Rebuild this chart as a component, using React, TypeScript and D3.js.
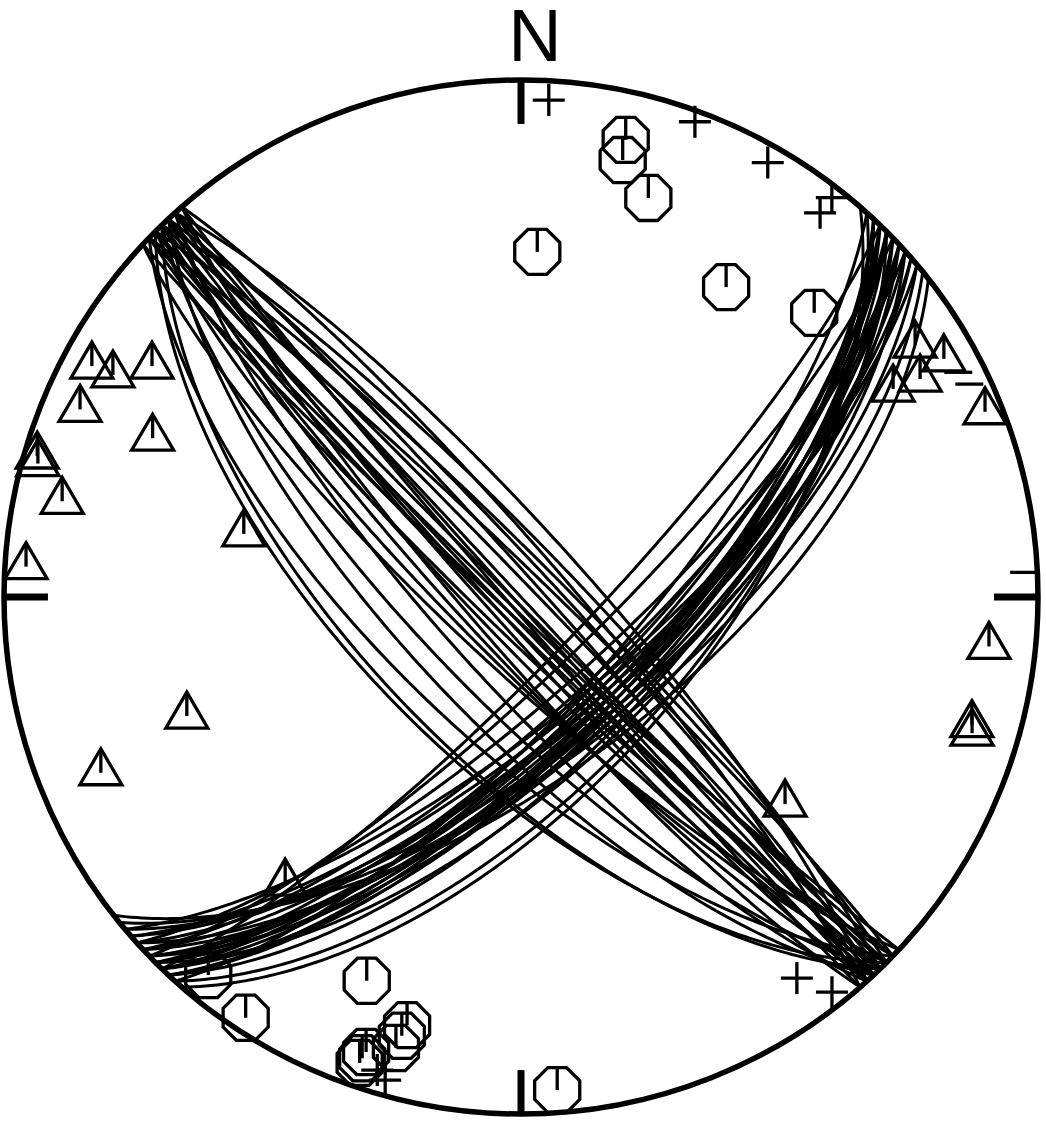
import React, { useRef, useEffect } from 'react'
import * as d3 from 'd3'

const width = 1046
const height = 1121

// nodal planes [strike, dip], right hand rule
const nwPlanes = [
  [135, 64], [136, 65], [134, 68], [137, 71], [136, 74], [138, 77], [133, 79], [135, 80],
  [137, 81], [139, 82], [136, 83], [134, 84], [138, 85], [135, 86], [137, 86], [133, 87],
  [136, 87], [139, 88], [134, 88], [138, 89], [135, 89], [137, 90], [316, 88], [318, 87],
  [314, 86], [317, 85], [315, 84], [319, 83], [316, 82], [318, 80],
]
const nePlanes = [
  [41, 61], [42, 62], [43, 65], [44, 67], [45, 68], [46, 69], [47, 67], [48, 70],
  [44, 71], [46, 66], [43, 69], [45, 72], [47, 73], [49, 69], [50, 67], [51, 65],
  [52, 63], [48, 75], [46, 78], [44, 80], [45, 64], [47, 70], [43, 68], [49, 71],
  [42, 73], [46, 68], [48, 66], [50, 72], [44, 69], [45, 70],
]

// axes [trend, plunge]
const pAxes = [
  [12.9, 10.2], [13.1, 14.3], [17.7, 20.1], [2.7, 33.6], [33.5, 28.9], [45.9, 22.1],
  [219.6, 5.7], [213.2, 3.1], [201.9, 21.1], [194.9, 15.4], [195.2, 13.1], [195.5, 10.4],
  [198.8, 7.8], [199.0, 6.3], [199.1, 5.2], [175.8, 4.9],
]
const tAxes = [
  [298.9, 5.8], [299.2, 10.5], [302.7, 16.3], [293.7, 7.6], [294.1, 23.0], [286.9, 2.5],
  [286.1, 3.1], [282.5, 10.0], [274.2, 4.5], [284.0, 44.0], [251.3, 32.3], [248.0, 13.4],
  [220.1, 29.9], [56.8, 9.8], [60.0, 6.2], [60.7, 12.5], [60.1, 18.1], [67.6, 3.3],
  [95.3, 10.0], [105.1, 10.6], [106.1, 10.1], [127.3, 36.0],
]
const bAxes = [
  [3.2, 4.2], [20.1, 2.4], [29.6, 3.8], [37.9, 2.4], [37.9, 6.5], [144.1, 9.9],
  [141.8, 3.1], [195.7, 3.3], [196.9, 4.9],
]
const dashMarks = [[62.8, 5.5], [64.6, 4.5], [87.2, 2.9]]

const compass = [0, 90, 180, 270]

const rad = Math.PI / 180

// lower hemisphere, equal area
const project = (trend: number, plunge: number) => {
  const r = Math.SQRT2 * Math.sin(((90 - plunge) / 2) * rad)
  return [r * Math.sin(trend * rad), r * Math.cos(trend * rad)]
}

const planePoints = (strike: number, dip: number) => {
  const s = strike * rad
  const d = dip * rad
  const sv = [Math.cos(s), Math.sin(s), 0]
  const dv = [Math.cos(s + Math.PI / 2) * Math.cos(d), Math.sin(s + Math.PI / 2) * Math.cos(d), Math.sin(d)]
  const pts: number[][] = []
  for (let a = 0; a <= 180; a += 1) {
    const c = Math.cos(a * rad)
    const n = Math.sin(a * rad)
    const v = [c * sv[0] + n * dv[0], c * sv[1] + n * dv[1], c * sv[2] + n * dv[2]]
    const pl = Math.asin(Math.max(-1, Math.min(1, v[2]))) / rad
    const tr = Math.atan2(v[1], v[0]) / rad
    pts.push(project(tr, pl))
  }
  return pts
}

export default function App() {
  const visEl = useRef<HTMLDivElement>(null)

  useEffect(() => {
    const root = d3.select(visEl.current)
    root.selectAll('*').remove()
    const svg = root.append('svg').attr('width', width).attr('height', height)
    svg.append('rect').attr('width', width).attr('height', height).attr('fill', 'white')

    const cx = 521
    const cy = 597
    const R = 517

    const x = d3.scaleLinear().domain([-1, 1]).range([cx - R, cx + R])
    const y = d3.scaleLinear().domain([-1, 1]).range([cy + R, cy - R])

    const line = d3.line<number[]>().x(d => x(d[0])).y(d => y(d[1]))

    const g = svg.append('g')

    g.selectAll('path.plane')
      .data([...nwPlanes, ...nePlanes])
      .enter().append('path')
      .attr('class', 'plane')
      .attr('d', d => line(planePoints(d[0], d[1])))
      .attr('fill', 'none')
      .attr('stroke', 'black')
      .attr('stroke-width', 3)

    // P axes: octagons
    const oR = 24.4
    const octagon = d3.range(8).map(k => {
      const a = (22.5 + 45 * k) * rad
      return [oR * Math.cos(a), oR * Math.sin(a)]
    })
    const pG = g.selectAll('g.p').data(pAxes).enter().append('g')
      .attr('transform', d => {
        const p = project(d[0], d[1])
        return `translate(${x(p[0])},${y(p[1])})`
      })
    pG.append('path')
      .attr('d', 'M' + octagon.map(p => p.join(',')).join('L') + 'Z')
      .attr('fill', 'none').attr('stroke', 'black').attr('stroke-width', 3.3)
    pG.append('line').attr('x1', 0).attr('x2', 0).attr('y1', -oR * Math.cos(22.5 * rad)).attr('y2', 0)
      .attr('stroke', 'black').attr('stroke-width', 3.3)

    // T axes: triangles
    const tw = 21
    const th = 18
    const tG = g.selectAll('g.t').data(tAxes).enter().append('g')
      .attr('transform', d => {
        const p = project(d[0], d[1])
        return `translate(${x(p[0])},${y(p[1])})`
      })
    tG.append('path')
      .attr('d', `M0,${-th}L${tw},${th}L${-tw},${th}Z`)
      .attr('fill', 'none').attr('stroke', 'black').attr('stroke-width', 3.3)
    tG.append('line').attr('x1', 0).attr('x2', 0).attr('y1', -th).attr('y2', th / 3)
      .attr('stroke', 'black').attr('stroke-width', 3.3)

    // B axes: crosses
    const bs = 16
    const bG = g.selectAll('g.b').data(bAxes).enter().append('g')
      .attr('transform', d => {
        const p = project(d[0], d[1])
        return `translate(${x(p[0])},${y(p[1])})`
      })
    bG.append('path')
      .attr('d', `M${-bs},0H${bs}M0,${-bs}V${bs}`)
      .attr('fill', 'none').attr('stroke', 'black').attr('stroke-width', 3.3)

    g.selectAll('line.dash').data(dashMarks).enter().append('line')
      .attr('class', 'dash')
      .attr('x1', d => x(project(d[0], d[1])[0]) - 14)
      .attr('x2', d => x(project(d[0], d[1])[0]) + 14)
      .attr('y1', d => y(project(d[0], d[1])[1]))
      .attr('y2', d => y(project(d[0], d[1])[1]))
      .attr('stroke', 'black').attr('stroke-width', 3.3)

    // primitive circle
    g.append('circle')
      .attr('cx', x(0)).attr('cy', y(0)).attr('r', R)
      .attr('fill', 'none').attr('stroke', 'black').attr('stroke-width', 5.5)

    // compass ticks
    g.selectAll('line.tick').data(compass).enter().append('line')
      .attr('class', 'tick')
      .attr('x1', d => x(Math.sin(d * rad)))
      .attr('y1', d => y(Math.cos(d * rad)))
      .attr('x2', d => x(0.915 * Math.sin(d * rad)))
      .attr('y2', d => y(0.915 * Math.cos(d * rad)))
      .attr('stroke', 'black').attr('stroke-width', 7)

    g.append('text')
      .attr('x', 535).attr('y', 61)
      .attr('text-anchor', 'middle')
      .attr('font-family', 'Liberation Sans, Arial, sans-serif')
      .attr('font-size', 74)
      .attr('fill', 'black')
      .text('N')
  }, [])

  return <div ref={visEl} style={{ position: 'absolute', left: 0, top: 0 }} />
}
